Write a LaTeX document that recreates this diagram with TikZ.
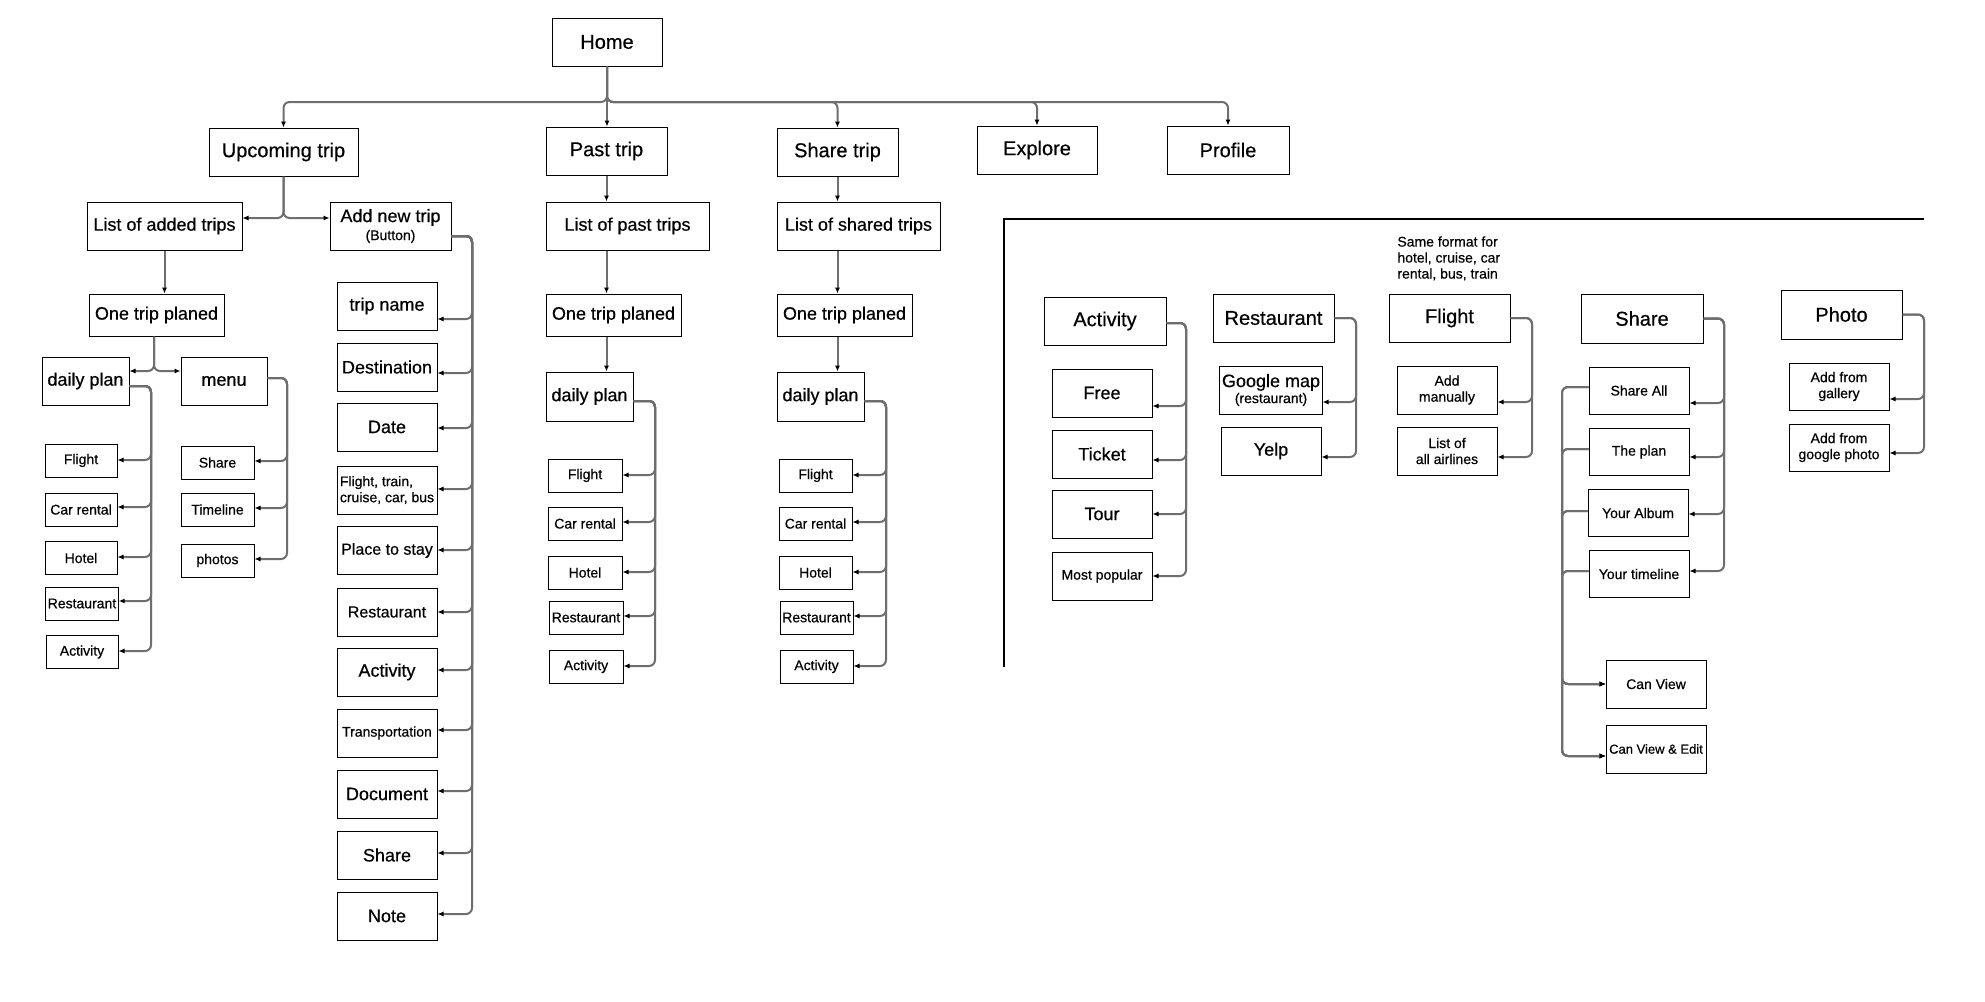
\documentclass[tikz,border=0pt]{standalone}
\usepackage{fontspec}
\setmainfont{Liberation Sans}[BoldFont={Liberation Sans}, BoldFeatures={FakeBold=0.5}]
\usetikzlibrary{arrows.meta}
\definecolor{linkgray}{HTML}{6E6E6E}

\begin{document}
\begin{tikzpicture}[
x=0.5pt, y=-0.5pt,
box/.style={draw=black, line width=0.5pt, inner sep=1pt, align=center},
wh/.style 2 args={minimum width=#1*0.5pt, minimum height=#2*0.5pt},
fbig/.style={font=\fontsize{10}{12}\selectfont\bfseries},
fmid/.style={font=\fontsize{9}{10}\selectfont\bfseries},
fsmall/.style={font=\fontsize{7}{8}\selectfont\bfseries},
link/.style={draw=linkgray, line width=1pt, rounded corners=3pt, -{Latex[length=3pt,width=2.6pt,color=black]}},
frame/.style={draw=black, line width=0.7pt},
]
\useasboundingbox (0,0) rectangle (1985,1001);

%Top level
\node[box, wh={110}{48}, fbig] (home) at (607,42) {Home};
\node[box, wh={149}{48}, fbig] (upc) at (283.5,152) {Upcoming trip};
\node[box, wh={121}{48}, fbig] (past) at (606.5,151) {Past trip};
\node[box, wh={121}{48}, fbig] (shtrip) at (837.5,152) {Share trip};
\node[box, wh={120}{48}, fbig] (explore) at (1037,150) {Explore};
\node[box, wh={122}{48}, fbig] (profile) at (1228,150) {Profile};

%Connections home -- top level
\coordinate (bus) at (607,102);
\draw[link] (home.south) -- (bus) -| (upc.north);
\draw[link] (home.south) -- (home.south |- past.north);
\draw[link] (home.south) -- (bus) -| (shtrip.north);
\draw[link] (home.south) -- (bus) -| (explore.north);
\draw[link] (home.south) -- (bus) -| (profile.north);

%Upcoming trip
\node[box, wh={155}{48}, fmid] (added) at (164.5,226) {List of added trips};
\node[box, wh={121}{48}, fmid] (addnew) at (390.5,226) {Add new trip\\[-1pt]{\fontsize{7}{8}\selectfont(Button)}};
\node[box, wh={135}{42}, fmid] (onetripL) at (156.5,315) {One trip planed};
\node[box, wh={87}{48}, fmid] (dailyL) at (85.5,381) {daily plan};
\node[box, wh={86}{48}, fmid] (menu) at (224,381) {menu};

\coordinate (upcfork) at (283.5,218);
\draw[link] (upc.south) -- (upcfork) -- (added.east |- upcfork);
\draw[link] (upc.south) -- (upcfork) -- (addnew.west |- upcfork);
\draw[link] (added.south) -- (added.south |- onetripL.north);
\coordinate (onefork) at (154,371);
\draw[link] (onetripL.south -| onefork) -- (onefork) -- (dailyL.east |- onefork);
\draw[link] (onetripL.south -| onefork) -- (onefork) -- (menu.west |- onefork);

%Daily plan (upcoming)
\node[box, wh={72}{33}, fsmall] (flightL) at (81,460.5) {Flight};
\node[box, wh={72}{33}, fsmall] (carL) at (81,509.5) {Car rental};
\node[box, wh={72}{33}, fsmall] (hotelL) at (81,558) {Hotel};
\node[box, wh={72}{33}, fsmall] (restL) at (82,603.5) {Restaurant};
\node[box, wh={72}{33}, fsmall] (actL) at (82,652) {Activity};

\draw[link] (dailyL.east |- 0,386) -| (151,460) -- (flightL.east |- 0,460);
\draw[link] (dailyL.east |- 0,386) -| (151,507) -- (carL.east |- 0,507);
\draw[link] (dailyL.east |- 0,386) -| (151,557) -- (hotelL.east |- 0,557);
\draw[link] (dailyL.east |- 0,386) -| (151,601) -- (restL.east |- 0,601);
\draw[link] (dailyL.east |- 0,386) -| (151,651) -- (actL.east |- 0,651);

%Menu
\node[box, wh={73}{33}, fsmall] (shareM) at (217.5,462.5) {Share};
\node[box, wh={73}{33}, fsmall] (timeM) at (217.5,509.5) {Timeline};
\node[box, wh={73}{33}, fsmall] (photoM) at (217.5,560.5) {photos};

\draw[link] (menu.east |- 0,378) -| (287,461) -- (shareM.east |- 0,461);
\draw[link] (menu.east |- 0,378) -| (287,508) -- (timeM.east |- 0,508);
\draw[link] (menu.east |- 0,378) -| (287,559) -- (photoM.east |- 0,559);

%Add new trip
\node[box, wh={100}{48}, fmid] (tname) at (387,306) {trip name};
\node[box, wh={100}{48}, fmid] (dest) at (387,367) {Destination};
\node[box, wh={100}{48}, fmid] (date) at (387,427) {Date};
\node[box, wh={100}{48}, fsmall, align=left] (trans) at (387,490) {Flight, train,\\cruise, car, bus};
\node[box, wh={100}{48}, font=\fontsize{8}{10}\selectfont\bfseries] (stay) at (387,550.5) {Place to stay};
\node[box, wh={100}{48}, font=\fontsize{8}{10}\selectfont\bfseries] (restN) at (387,612) {Restaurant};
\node[box, wh={100}{48}, fmid] (actN) at (387,672) {Activity};
\node[box, wh={100}{48}, fsmall] (transp) at (387,733) {Transportation};
\node[box, wh={100}{48}, fmid] (doc) at (387,794) {Document};
\node[box, wh={100}{48}, fmid] (shareN) at (387,855) {Share};
\node[box, wh={100}{48}, fmid] (note) at (387,916) {Note};

\draw[link] (addnew.east |- 0,236) -| (472,319) -- (tname.east |- 0,319);
\draw[link] (addnew.east |- 0,236) -| (472,373) -- (dest.east |- 0,373);
\draw[link] (addnew.east |- 0,236) -| (472,428) -- (date.east |- 0,428);
\draw[link] (addnew.east |- 0,236) -| (472,489) -- (trans.east |- 0,489);
\draw[link] (addnew.east |- 0,236) -| (472,550) -- (stay.east |- 0,550);
\draw[link] (addnew.east |- 0,236) -| (472,612) -- (restN.east |- 0,612);
\draw[link] (addnew.east |- 0,236) -| (472,670) -- (actN.east |- 0,670);
\draw[link] (addnew.east |- 0,236) -| (472,730) -- (transp.east |- 0,730);
\draw[link] (addnew.east |- 0,236) -| (472,791) -- (doc.east |- 0,791);
\draw[link] (addnew.east |- 0,236) -| (472,853) -- (shareN.east |- 0,853);
\draw[link] (addnew.east |- 0,236) -| (472,914) -- (note.east |- 0,914);

%Past trip
\node[box, wh={163}{48}, fmid] (listP) at (627.5,226) {List of past trips};
\node[box, wh={135}{42}, fmid] (onetripP) at (613.5,315) {One trip planed};
\node[box, wh={87}{49}, fmid] (dailyP) at (589.5,396.5) {daily plan};

\draw[link] (past.south) -- (past.south |- listP.north);
\draw[link] (past.south |- listP.south) -- (past.south |- onetripP.north);
\draw[link] (past.south |- onetripP.south) -- (past.south |- dailyP.north);

\node[box, wh={74}{33}, fsmall] (flightP) at (585,475.5) {Flight};
\node[box, wh={74}{33}, fsmall] (carP) at (585,523.5) {Car rental};
\node[box, wh={74}{33}, fsmall] (hotelP) at (585,572.5) {Hotel};
\node[box, wh={74}{33}, fsmall] (restP) at (586,617.5) {Restaurant};
\node[box, wh={74}{33}, fsmall] (actP) at (586,666.5) {Activity};

\draw[link] (dailyP.east |- 0,401) -| (655,475) -- (flightP.east |- 0,475);
\draw[link] (dailyP.east |- 0,401) -| (655,522) -- (carP.east |- 0,522);
\draw[link] (dailyP.east |- 0,401) -| (655,572) -- (hotelP.east |- 0,572);
\draw[link] (dailyP.east |- 0,401) -| (655,616) -- (restP.east |- 0,616);
\draw[link] (dailyP.east |- 0,401) -| (655,666) -- (actP.east |- 0,666);

%Share trip
\node[box, wh={163}{48}, fmid] (listS) at (858.5,226) {List of shared trips};
\node[box, wh={135}{42}, fmid] (onetripS) at (844.5,315) {One trip planed};
\node[box, wh={87}{49}, fmid] (dailyS) at (820.5,396.5) {daily plan};

\draw[link] (shtrip.south) -- (shtrip.south |- listS.north);
\draw[link] (shtrip.south |- listS.south) -- (shtrip.south |- onetripS.north);
\draw[link] (shtrip.south |- onetripS.south) -- (shtrip.south |- dailyS.north);

\node[box, wh={73}{33}, fsmall] (flightS) at (815.5,475.5) {Flight};
\node[box, wh={73}{33}, fsmall] (carS) at (815.5,523.5) {Car rental};
\node[box, wh={73}{33}, fsmall] (hotelS) at (815.5,572.5) {Hotel};
\node[box, wh={73}{33}, fsmall] (restS) at (816.5,617.5) {Restaurant};
\node[box, wh={73}{33}, fsmall] (actS) at (816.5,666.5) {Activity};

\draw[link] (dailyS.east |- 0,401) -| (886,475) -- (flightS.east |- 0,475);
\draw[link] (dailyS.east |- 0,401) -| (886,522) -- (carS.east |- 0,522);
\draw[link] (dailyS.east |- 0,401) -| (886,572) -- (hotelS.east |- 0,572);
\draw[link] (dailyS.east |- 0,401) -| (886,616) -- (restS.east |- 0,616);
\draw[link] (dailyS.east |- 0,401) -| (886,666) -- (actS.east |- 0,666);

%Detail frame
\draw[frame] (1924,219) -- (1004,219) -- (1004,667);

%Activity
\node[box, wh={122}{48}, fbig] (actD) at (1105,321) {Activity};
\node[box, wh={100}{48}, fmid] (free) at (1102,393) {Free};
\node[box, wh={100}{48}, fmid] (ticket) at (1102,454) {Ticket};
\node[box, wh={100}{48}, fmid] (tour) at (1102,514) {Tour};
\node[box, wh={100}{48}, fsmall] (popular) at (1102,576) {Most popular};

\draw[link] (actD.east |- 0,323) -| (1186,406) -- (free.east |- 0,406);
\draw[link] (actD.east |- 0,323) -| (1186,460) -- (ticket.east |- 0,460);
\draw[link] (actD.east |- 0,323) -| (1186,514) -- (tour.east |- 0,514);
\draw[link] (actD.east |- 0,323) -| (1186,576) -- (popular.east |- 0,576);

%Restaurant
\node[box, wh={121}{48}, fbig] (restD) at (1273.5,318) {Restaurant};
\node[box, wh={100}{48}, fmid] (gmap) at (1271,390) {Google map\\[-2pt]{\fontsize{7}{8}\selectfont(restaurant)}};
\node[box, wh={100}{48}, fmid] (yelp) at (1271,451) {Yelp};

\draw[link] (restD.east) -| (1356,402) -- (gmap.east |- 0,402);
\draw[link] (restD.east) -| (1356,457) -- (yelp.east |- 0,457);

%Flight
\node[fsmall, align=left, anchor=north west, inner sep=0pt] (fmtnote) at (1397,236) {Same format for\\hotel, cruise, car\\rental, bus, train};
\node[box, wh={121}{48}, fbig] (flightD) at (1449.5,318) {Flight};
\node[box, wh={100}{48}, fsmall] (manual) at (1447,390) {Add\\manually};
\node[box, wh={100}{48}, fsmall] (airlines) at (1447,451) {List of\\all airlines};

\draw[link] (flightD.east) -| (1532,402) -- (manual.east |- 0,402);
\draw[link] (flightD.east) -| (1532,457) -- (airlines.east |- 0,457);

%Share
\node[box, wh={122}{49}, fbig] (shareD) at (1642,318.5) {Share};
\node[box, wh={100}{47}, fsmall] (shareall) at (1639,390.5) {Share All};
\node[box, wh={100}{47}, fsmall] (plan) at (1639,452) {The plan};
\node[box, wh={100}{47}, fsmall] (album) at (1638,513) {Your Album};
\node[box, wh={100}{47}, fsmall] (timeline) at (1639,574) {Your timeline};
\node[box, wh={100}{48}, fsmall] (canview) at (1656,684) {Can View};
\node[box, wh={100}{48}, font=\fontsize{6.5}{8}\selectfont\bfseries] (canedit) at (1656,749) {Can View \& Edit};

\draw[link] (shareD.east) -| (1724,403) -- (shareall.east |- 0,403);
\draw[link] (shareD.east) -| (1724,457) -- (plan.east |- 0,457);
\draw[link] (shareD.east) -| (1724,514) -- (album.east |- 0,514);
\draw[link] (shareD.east) -| (1724,571) -- (timeline.east |- 0,571);

\draw[link] (shareall.west |- 0,387) -| (1562,684) -- (canview.west |- 0,684);
\draw[link] (shareall.west |- 0,387) -| (1562,756) -- (canedit.west |- 0,756);
\draw[link] (plan.west |- 0,449) -| (1562,684) -- (canview.west |- 0,684);
\draw[link] (plan.west |- 0,449) -| (1562,756) -- (canedit.west |- 0,756);
\draw[link] (album.west |- 0,511) -| (1562,684) -- (canview.west |- 0,684);
\draw[link] (album.west |- 0,511) -| (1562,756) -- (canedit.west |- 0,756);
\draw[link] (timeline.west |- 0,571) -| (1562,684) -- (canview.west |- 0,684);
\draw[link] (timeline.west |- 0,571) -| (1562,756) -- (canedit.west |- 0,756);

%Photo
\node[box, wh={121}{49}, fbig] (photoD) at (1841.5,314.5) {Photo};
\node[box, wh={100}{47}, fsmall] (gallery) at (1839,386.5) {Add from\\gallery};
\node[box, wh={100}{47}, fsmall] (gphoto) at (1839,447.5) {Add from\\google photo};

\draw[link] (photoD.east) -| (1924,399) -- (gallery.east |- 0,399);
\draw[link] (photoD.east) -| (1924,453) -- (gphoto.east |- 0,453);
\end{tikzpicture}
\end{document}
